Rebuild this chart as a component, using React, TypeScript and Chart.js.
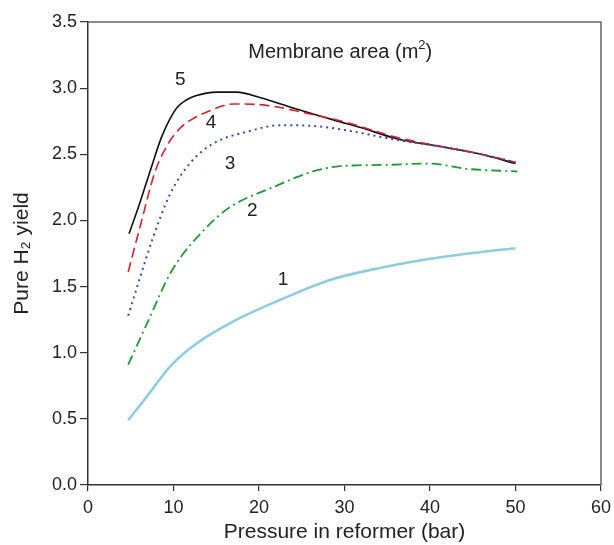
import React, { useEffect, useRef } from "react";
import { Chart, registerables } from "chart.js";

Chart.register(...registerables);

const xTicks = [0, 10, 20, 30, 40, 50, 60];
const yTicks = [0, 0.5, 1.0, 1.5, 2.0, 2.5, 3.0, 3.5];

const area5x = [4.8, 6.1, 7.3, 8.6, 9.6, 10.5, 11.5, 12.5, 15.1, 17.4, 20.1, 24, 28.7, 32, 36, 42, 46, 50];
const area5y = [1.9, 2.14, 2.38, 2.63, 2.77, 2.86, 2.91, 2.94, 2.97, 2.97, 2.93, 2.85, 2.76, 2.7, 2.62, 2.55, 2.5, 2.43];

const area4x = [4.7, 6.2, 7.8, 9.2, 10.8, 12.3, 13.9, 17, 20.9, 25.6, 30.3, 36, 42, 46, 50];
const area4y = [1.61, 1.98, 2.36, 2.56, 2.7, 2.77, 2.82, 2.88, 2.87, 2.81, 2.74, 2.63, 2.55, 2.5, 2.44];

const area3x = [4.7, 6.0, 7.5, 9.6, 11.9, 14.6, 18.6, 22.5, 27.1, 30.3, 36, 42, 46, 50];
const area3y = [1.28, 1.55, 1.85, 2.2, 2.43, 2.58, 2.67, 2.72, 2.71, 2.68, 2.61, 2.55, 2.5, 2.44];

const area2x = [4.7, 6.9, 9.8, 13.9, 16.6, 21.6, 26.3, 29.5, 35, 40, 44.3, 50.2];
const area2y = [0.91, 1.22, 1.62, 1.95, 2.1, 2.25, 2.37, 2.41, 2.42, 2.43, 2.39, 2.37];

const area1x = [4.7, 6.9, 9.8, 12.7, 17.4, 22.5, 28.3, 34.1, 40, 45.8, 50];
const area1y = [0.49, 0.67, 0.91, 1.07, 1.25, 1.4, 1.55, 1.64, 1.71, 1.76, 1.79];

const curveLabels = ["5", "4", "3", "2", "1"];
const curveLabelX = [10.8, 14.4, 16.6, 19.2, 22.8];
const curveLabelY = [3.06, 2.74, 2.43, 2.07, 1.55];

const titleText = "Membrane area (m";
const titleX = 29.5;
const titleY = 3.27;

const toPoints = (xs: number[], ys: number[]) => xs.map((x, i) => ({ x, y: ys[i] }));

const FONT = "'Liberation Sans', Arial, sans-serif";

export default function App() {
  const ref = useRef<HTMLCanvasElement | null>(null);

  useEffect(() => {
    if (!ref.current) return;
    const labelPlugin = {
      id: "curveLabels",
      afterDatasetsDraw(chart: any) {
        const { ctx, scales } = chart;
        const xs = scales.x;
        const ys = scales.y;
        ctx.save();
        ctx.fillStyle = "#222";
        ctx.font = `19px ${FONT}`;
        ctx.textAlign = "center";
        ctx.textBaseline = "middle";
        curveLabels.forEach((t, i) => {
          ctx.fillText(t, xs.getPixelForValue(curveLabelX[i]), ys.getPixelForValue(curveLabelY[i]));
        });
        // title with superscript
        const cx = xs.getPixelForValue(titleX);
        const cy = ys.getPixelForValue(titleY);
        ctx.font = `20px ${FONT}`;
        const w1 = ctx.measureText(titleText).width;
        ctx.font = `13px ${FONT}`;
        const w2 = ctx.measureText("2").width;
        ctx.font = `20px ${FONT}`;
        const w3 = ctx.measureText(")").width;
        const total = w1 + w2 + w3;
        let sx = cx - total / 2;
        ctx.textAlign = "left";
        ctx.fillText(titleText, sx, cy);
        sx += w1;
        ctx.font = `13px ${FONT}`;
        ctx.fillText("2", sx, cy - 7);
        sx += w2;
        ctx.font = `20px ${FONT}`;
        ctx.fillText(")", sx, cy);
        // frame top and right
        const a = chart.chartArea;
        ctx.strokeStyle = "#666";
        ctx.lineWidth = 1.5;
        ctx.beginPath();
        ctx.moveTo(a.left, a.top);
        ctx.lineTo(a.right, a.top);
        ctx.lineTo(a.right, a.bottom);
        ctx.stroke();
        ctx.restore();
      },
    };

    const mk = (data: any, color: string, width: number, dash: number[]) => ({
      data,
      borderColor: color,
      borderWidth: width,
      borderDash: dash,
      pointRadius: 0,
      fill: false,
      tension: 0.4,
      cubicInterpolationMode: "monotone" as const,
    });

    const chart = new Chart(ref.current, {
      type: "line",
      data: {
        datasets: [
          mk(toPoints(area1x, area1y), "#8ccde0", 2.6, []),
          mk(toPoints(area2x, area2y), "#1f9a3c", 1.8, [10, 4, 2, 4]),
          mk(toPoints(area3x, area3y), "#3a4aaa", 2, [2, 4]),
          mk(toPoints(area4x, area4y), "#d8202e", 1.6, [10, 5]),
          mk(toPoints(area5x, area5y), "#111111", 1.6, []),
        ],
      },
      options: {
        animation: false,
        responsive: false,
        maintainAspectRatio: false,
        layout: { padding: { top: 22, right: 13, left: 0, bottom: 0 } },
        plugins: { legend: { display: false }, tooltip: { enabled: false } },
        scales: {
          x: {
            type: "linear",
            min: 0,
            max: 60,
            afterBuildTicks: (s: any) => {
              s.ticks = xTicks.map((v) => ({ value: v }));
            },
            afterFit: (s: any) => {
              s.height = 60;
              s.paddingLeft = 0;
              s.paddingRight = 0;
            },
            grid: {
              display: true,
              drawOnChartArea: false,
              drawTicks: true,
              tickLength: 6,
              color: "#333",
              lineWidth: 1.2,
            },
            border: { display: true, color: "#333", width: 1.5 },
            ticks: {
              color: "#222",
              font: { family: FONT, size: 18 },
              padding: 6,
              maxRotation: 0,
              callback: (v: any) => String(v),
            },
            title: {
              display: true,
              text: "Pressure in reformer (bar)",
              color: "#222",
              font: { family: FONT, size: 21 },
              padding: { top: 0, bottom: 0 },
            },
          },
          y: {
            type: "linear",
            min: 0,
            max: 3.5,
            afterBuildTicks: (s: any) => {
              s.ticks = yTicks.map((v) => ({ value: v }));
            },
            afterFit: (s: any) => {
              s.width = 88;
              s.paddingTop = 0;
              s.paddingBottom = 0;
            },
            grid: {
              display: true,
              drawOnChartArea: false,
              drawTicks: true,
              tickLength: 8,
              color: "#333",
              lineWidth: 1.2,
            },
            border: { display: true, color: "#333", width: 1.5 },
            ticks: {
              color: "#222",
              font: { family: FONT, size: 18 },
              padding: 3,
              callback: (v: any) => Number(v).toFixed(1),
            },
            title: {
              display: true,
              text: "Pure H\u2082 yield",
              color: "#222",
              font: { family: FONT, size: 21 },
              padding: { top: 10, bottom: 0 },
            },
          },
        },
      },
      plugins: [labelPlugin],
    });
    return () => chart.destroy();
  }, []);

  return (
    <div style={{ position: "absolute", left: 0, top: 0, width: 614, height: 545, background: "#fff" }}>
      <canvas ref={ref} width={614} height={545} style={{ width: 614, height: 545 }} />
    </div>
  );
}
